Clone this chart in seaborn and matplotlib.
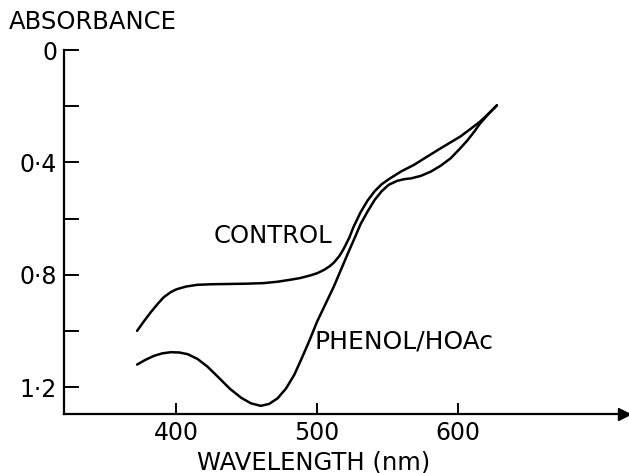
import numpy as np
import pandas as pd
import matplotlib
matplotlib.use("Agg")
import matplotlib.pyplot as plt
import seaborn as sns

# ---- data ----
control_wl = [372, 377, 382, 387, 391, 396, 400, 407, 415, 425, 438, 450, 462, 472,
              481, 488, 495, 500, 505, 509, 512, 516, 519, 523, 526, 531, 536, 541,
              546, 552, 560, 569, 577, 586, 594, 602, 609, 616, 622, 628]
control_abs = [1.000, 0.965, 0.932, 0.902, 0.880, 0.862, 0.852, 0.842, 0.836, 0.834,
               0.833, 0.832, 0.830, 0.825, 0.818, 0.812, 0.803, 0.795, 0.783, 0.770,
               0.757, 0.733, 0.708, 0.668, 0.630, 0.578, 0.536, 0.503, 0.478, 0.457,
               0.432, 0.409, 0.384, 0.356, 0.332, 0.308, 0.282, 0.255, 0.227, 0.197]

phenol_wl = [372, 378, 384, 390, 396, 402, 408, 415, 422, 430, 438, 446, 453, 460,
             466, 472, 478, 484, 490, 495, 500, 506, 512, 517, 522, 527, 531, 536,
             541, 546, 551, 557, 562, 567, 574, 581, 588, 595, 601, 607, 612, 616,
             622, 628]
phenol_abs = [1.120, 1.103, 1.089, 1.080, 1.076, 1.077, 1.083, 1.100, 1.127, 1.166,
              1.206, 1.238, 1.258, 1.267, 1.260, 1.240, 1.205, 1.155, 1.088, 1.030,
              0.968, 0.905, 0.842, 0.783, 0.724, 0.667, 0.620, 0.575, 0.534, 0.503,
              0.480, 0.466, 0.460, 0.457, 0.448, 0.433, 0.412, 0.386, 0.355, 0.322,
              0.290, 0.262, 0.228, 0.197]

x_ticks = [400, 500, 600]
x_tick_labels = ["400", "500", "600"]
y_ticks = [0, 0.2, 0.4, 0.6, 0.8, 1.0, 1.2]
y_tick_labels = ["0", "", "0·4", "", "0·8", "", "1·2"]

series_labels = ["CONTROL", "PHENOL/HOAc"]

df = pd.concat([
    pd.DataFrame({"wl": control_wl, "abs": control_abs, "series": series_labels[0]}),
    pd.DataFrame({"wl": phenol_wl, "abs": phenol_abs, "series": series_labels[1]}),
])

sns.set_theme(style="white")
plt.rcParams["font.family"] = ["DejaVu Sans"]

fig = plt.figure(figsize=(6.29, 4.73), dpi=100)
ax = fig.add_axes([64 / 629, 1 - 414 / 473, 1 - 64 / 629, (414 - 50) / 473])

sns.lineplot(data=df, x="wl", y="abs", units="series", estimator=None,
             color="black", linewidth=1.8, sort=False, ax=ax, legend=False)

ax.set_xlim(320, 722)
ax.set_ylim(1.296, 0)

ax.set_xticks(x_ticks)
ax.set_xticklabels(x_tick_labels)
ax.set_yticks(y_ticks)
ax.set_yticklabels(y_tick_labels)

ax.tick_params(axis="x", direction="in", length=8, width=1.4, pad=5,
               labelsize=17, colors="black", bottom=True)
ax.tick_params(axis="y", direction="in", length=11, width=1.4, pad=5,
               labelsize=17, colors="black", left=True)

for s in ["top", "right"]:
    ax.spines[s].set_visible(False)
for s in ["left", "bottom"]:
    ax.spines[s].set_color("black")
    ax.spines[s].set_linewidth(1.6)

# arrow at the end of the x axis
ax.plot(1 - 5 / 565, 0, marker=">", color="black", markersize=9,
        transform=ax.transAxes, clip_on=False)

ax.set_xlabel("WAVELENGTH (nm)", fontsize=17.5, color="black")
ax.xaxis.set_label_coords((314 - 64) / 565, (414 - 450) / 364)
ax.xaxis.label.set_va("top")
ax.set_ylabel("")

fig.text(9 / 629, 1 - 22 / 473, "ABSORBANCE", fontsize=17.5, ha="left",
         va="center", color="black")

ax.text(469, 0.662, series_labels[0], fontsize=17.5, ha="center", va="center",
        color="black")
ax.text(498.5, 1.039, series_labels[1], fontsize=18, ha="left", va="center",
        color="black")

fig.savefig("out.png", dpi=100)
